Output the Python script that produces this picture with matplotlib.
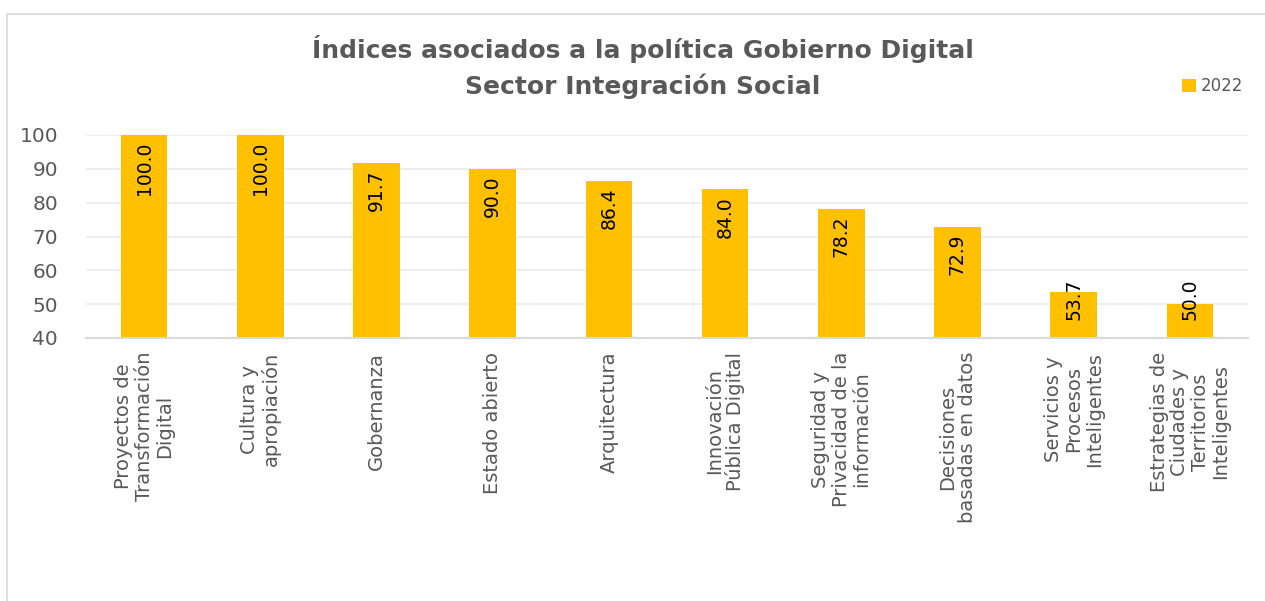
import numpy as np
import matplotlib.pyplot as plt
from matplotlib.patches import Rectangle

plt.rcParams['font.family'] = ['DejaVu Sans']

categorias = ['Proyectos de\nTransformación\nDigital', 'Cultura y\napropiación', 'Gobernanza',
              'Estado abierto', 'Arquitectura', 'Innovación\nPública Digital',
              'Seguridad y\nPrivacidad de la\ninformación', 'Decisiones\nbasadas en datos',
              'Servicios y\nProcesos\nInteligentes', 'Estrategias de\nCiudades y\nTerritorios\nInteligentes']
valores = [100.0, 100.0, 91.7, 90.0, 86.4, 84.0, 78.2, 72.9, 53.7, 50.0]
serie = '2022'
yticks = [40, 50, 60, 70, 80, 90, 100]

gris = '#595959'
amarillo = '#FFC000'

fig = plt.figure(figsize=(12.65, 6.01), dpi=100)
ax = fig.add_axes([86 / 1265, 1 - 338 / 601, (1248 - 86) / 1265, (338 - 135) / 601])

x = np.arange(len(valores))
ax.bar(x, valores, width=0.4, color=amarillo, zorder=2, label=serie)
ax.set_ylim(40, 100)
ax.set_xlim(-0.5, len(valores) - 0.5)
ax.set_yticks(yticks)
ax.grid(axis='y', color='#EBEBEB', linewidth=1.2, zorder=0)
for s in ['top', 'right', 'left']:
    ax.spines[s].set_visible(False)
ax.spines['bottom'].set_color('#D9D9D9')
ax.spines['bottom'].set_linewidth(1.5)
ax.tick_params(axis='y', length=0, labelsize=14.5, labelcolor=gris, pad=20)
ax.tick_params(axis='x', length=0, labelsize=14, labelcolor=gris, pad=10)
ax.set_xticks(x)
ax.set_xticklabels(categorias, rotation=90, va='top', ha='center', multialignment='center',
                   linespacing=1.1)

# etiquetas de valor dentro de la barra
for xi, v in zip(x, valores):
    if v < 58.7:
        ax.text(xi, 45.3, f'{v:.1f}', rotation=90, ha='center', va='bottom', fontsize=13.5,
                color='black', zorder=3)
    else:
        ax.text(xi, v - 2.0, f'{v:.1f}', rotation=90, ha='center', va='top', fontsize=13.5,
                color='black', zorder=3)

fig.text(643 / 1265, 1 - 67 / 601, 'Índices asociados a la política Gobierno Digital\nSector Integración Social',
         ha='center', va='center', fontsize=18, fontweight='bold', color=gris, linespacing=1.55)

ax.legend(loc='center left', bbox_to_anchor=(1174 / 1265, 1 - 86 / 601), bbox_transform=fig.transFigure,
          frameon=False, fontsize=12, labelcolor=gris, handlelength=0.8, handleheight=0.8,
          handletextpad=0.3, borderpad=0)

fig.patches.append(Rectangle((7 / 1265, -0.1), 1.2, 1 - 14 / 601 + 0.1, transform=fig.transFigure,
                             fill=False, edgecolor='#D9D9D9', linewidth=1.2))

fig.savefig('out.png', dpi=100, facecolor='white')
